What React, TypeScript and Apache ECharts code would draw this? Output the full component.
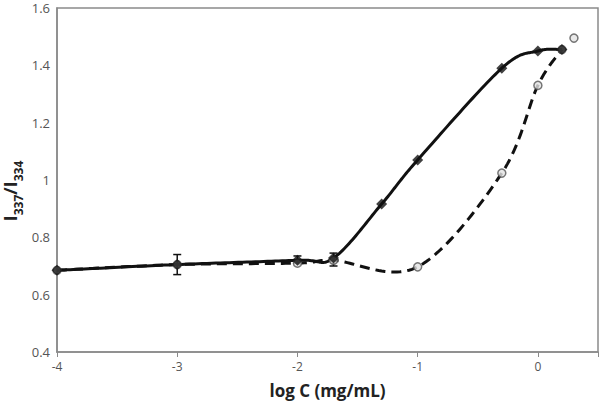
import React, { useEffect, useRef } from "react";
import * as echarts from "echarts";

const solidX = [-4, -3, -2, -1.7, -1.3, -1.0, -0.3, 0, 0.2];
const solidY = [0.685, 0.705, 0.72, 0.728, 0.916, 1.07, 1.39, 1.45, 1.455];
const dashedX = [-4, -3, -2, -1.7, -1.0, -0.3, 0, 0.2];
const dashedY = [0.685, 0.705, 0.71, 0.72, 0.697, 1.024, 1.33, 1.455];
const extraX = [0.3];
const extraY = [1.495];
const errX = [-3, -2, -1.7];
const errLow = [0.67, 0.71, 0.7];
const errHigh = [0.74, 0.735, 0.745];
const yTicks = [0.4, 0.6, 0.8, 1, 1.2, 1.4, 1.6];

function curveSeries(xs: number[], ys: number[], dash: boolean) {
  return {
    type: "custom",
    z: dash ? 2 : 3,
    silent: true,
    data: xs.map((x, i) => [x, ys[i]]),
    renderItem: (params: any, api: any) => {
      if (params.dataIndex !== 0) return { type: "group", children: [] };
      const P = xs.map((x, i) => api.coord([x, ys[i]]));
      const pts: number[][] = [];
      const n = P.length;
      for (let i = 0; i < n - 1; i++) {
        const p0 = P[Math.max(i - 1, 0)];
        const p1 = P[i];
        const p2 = P[i + 1];
        const p3 = P[Math.min(i + 2, n - 1)];
        const c1 = [p1[0] + (p2[0] - p0[0]) / 6, p1[1] + (p2[1] - p0[1]) / 6];
        const c2 = [p2[0] - (p3[0] - p1[0]) / 6, p2[1] - (p3[1] - p1[1]) / 6];
        const steps = 30;
        for (let s = 0; s <= steps; s++) {
          if (i > 0 && s === 0) continue;
          const t = s / steps;
          const u = 1 - t;
          const bx = u * u * u * p1[0] + 3 * u * u * t * c1[0] + 3 * u * t * t * c2[0] + t * t * t * p2[0];
          const by = u * u * u * p1[1] + 3 * u * u * t * c1[1] + 3 * u * t * t * c2[1] + t * t * t * p2[1];
          pts.push([bx, by]);
        }
      }
      return {
        type: "polyline",
        shape: { points: pts },
        style: {
          stroke: "#111",
          lineWidth: 3,
          fill: "none",
          lineDash: dash ? [10, 6] : null,
        },
      };
    },
  };
}

export default function App() {
  const ref = useRef<HTMLDivElement>(null);
  useEffect(() => {
    if (!ref.current) return;
    const chart = echarts.init(ref.current, undefined, { renderer: "svg" });
    const font = "Open Sans";
    const hollow = { color: "#e4e4e4", borderColor: "#555", borderWidth: 1.5 };
    chart.setOption({
      animation: false,
      backgroundColor: "#ffffff",
      grid: {
        left: 57,
        right: 2,
        top: 8,
        bottom: 52,
        show: true,
        borderColor: "#8a8a8a",
        borderWidth: 1.5,
        outerBoundsMode: "none",
        containLabel: false,
      },
      xAxis: {
        type: "value",
        min: -4,
        max: 0.5,
        interval: 1,
        name: "log C (mg/mL)",
        nameLocation: "middle",
        nameGap: 30,
        nameMoveOverlap: false,
        nameTextStyle: { fontFamily: font, fontWeight: "bold", fontSize: 17, color: "#222" },
        axisLine: { onZero: false, lineStyle: { color: "#8a8a8a", width: 1.5 } },
        axisTick: { show: true, length: 5, lineStyle: { color: "#8a8a8a" } },
        axisLabel: {
          fontFamily: font,
          fontSize: 12,
          color: "#555",
          margin: 8,
          formatter: (v: number) => (Number.isInteger(v) ? String(v) : ""),
        },
        splitLine: { show: false },
      },
      yAxis: {
        type: "value",
        min: 0.4,
        max: 1.6,
        interval: 0.2,
        name: "{a|I}{s|337}{a|/I}{s|334}",
        nameLocation: "middle",
        nameGap: 33,
        nameMoveOverlap: false,
        nameRotate: 90,
        nameTextStyle: {
          padding: [0, 22, 0, 0],
          rich: {
            a: {
              fontFamily: font,
              fontWeight: "bold",
              fontSize: 18,
              color: "#222",
              lineHeight: 20,
              padding: [0, 0, 5, 0],
              verticalAlign: "bottom",
            },
            s: {
              fontFamily: font,
              fontWeight: "bold",
              fontSize: 12,
              color: "#222",
              lineHeight: 14,
              verticalAlign: "bottom",
            },
          },
        },
        axisLine: { show: true, onZero: false, lineStyle: { color: "#8a8a8a", width: 1.5 } },
        axisTick: { show: false },
        axisLabel: {
          fontFamily: font,
          fontSize: 13,
          color: "#555",
          margin: 7,
          formatter: (v: number) => {
            const t = yTicks.find((k) => Math.abs(k - v) < 1e-6);
            return t === undefined ? "" : String(t);
          },
        },
        splitLine: { show: false },
      },
      series: [
        curveSeries(dashedX, dashedY, true),
        curveSeries(solidX, solidY, false),
        {
          type: "custom",
          z: 5,
          silent: true,
          data: errX.map((x, i) => [x, errLow[i], errHigh[i]]),
          renderItem: (params: any, api: any) => {
            const x = api.value(0);
            const lo = api.coord([x, api.value(1)]);
            const hi = api.coord([x, api.value(2)]);
            const w = 4;
            const style = { stroke: "#111", lineWidth: 1.5 };
            return {
              type: "group",
              children: [
                { type: "line", shape: { x1: lo[0], y1: lo[1], x2: hi[0], y2: hi[1] }, style },
                { type: "line", shape: { x1: lo[0] - w, y1: lo[1], x2: lo[0] + w, y2: lo[1] }, style },
                { type: "line", shape: { x1: hi[0] - w, y1: hi[1], x2: hi[0] + w, y2: hi[1] }, style },
              ],
            };
          },
        },
        {
          type: "scatter",
          data: dashedX.map((x, i) => [x, dashedY[i]]),
          symbol: "circle",
          symbolSize: 8,
          itemStyle: hollow,
          z: 6,
        },
        {
          type: "scatter",
          data: extraX.map((x, i) => [x, extraY[i]]),
          symbol: "circle",
          symbolSize: 8,
          itemStyle: hollow,
          z: 6,
        },
        {
          type: "scatter",
          data: solidX.map((x, i) => [x, solidY[i]]),
          symbol: "diamond",
          symbolSize: 11,
          itemStyle: { color: "#111" },
          z: 7,
        },
      ],
    });
    return () => chart.dispose();
  }, []);
  return <div ref={ref} style={{ width: 600, height: 404, position: "absolute", left: 0, top: 0 }} />;
}
